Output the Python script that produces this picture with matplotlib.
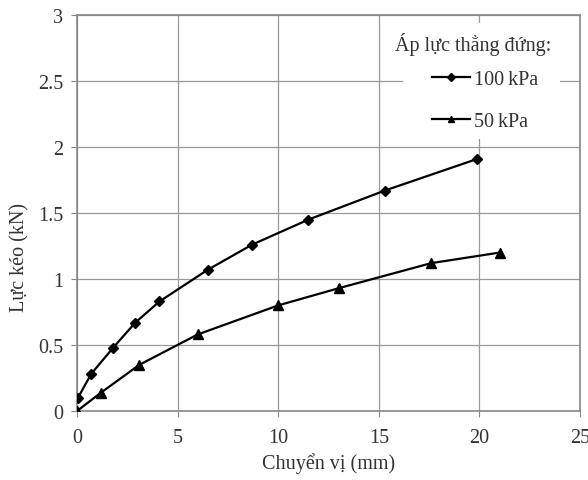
import matplotlib
matplotlib.use("Agg")
import matplotlib.pyplot as plt
from matplotlib.patches import Rectangle

plt.rcParams['font.family'] = ['Liberation Serif', 'DejaVu Serif']

x100 = [0.05, 0.7, 1.8, 2.9, 4.1, 6.5, 8.7, 11.5, 15.3, 19.9]
y100 = [0.10, 0.28, 0.48, 0.67, 0.83, 1.07, 1.26, 1.45, 1.67, 1.91]
x50 = [0.0, 1.2, 3.1, 6.0, 10.0, 13.0, 17.6, 21.0]
y50 = [0.0, 0.14, 0.35, 0.58, 0.80, 0.93, 1.12, 1.20]
labels = ["100\u2009kPa", "50\u2009kPa"]
legend_title = "Áp lực thẳng đứng:"
xticks = [0, 5, 10, 15, 20, 25]
yticks = [0, 0.5, 1, 1.5, 2, 2.5, 3]
yticklabels = ["0", "0.5", "1", "1.5", "2", "2.5", "3"]

W, H = 588, 481
L, R, T, B = 77, 580, 16, 412
fig = plt.figure(figsize=(W/100, H/100), dpi=100)
ax = fig.add_axes([L/W, 1-B/H, (R-L)/W, (B-T)/H])

def ax_x(px):
    return (px - L) / (R - L)

def ax_y(py):
    return (B - py) / (B - T)

ax.plot(x100, y100, color='black', lw=1.6, marker='D', ms=5.5, label=labels[0], zorder=3)
ax.plot(x50, y50, color='black', lw=1.6, marker='^', ms=6.5, label=labels[1], zorder=3)

ax.set_xlim(0, 25)
ax.set_ylim(0, 3)
ax.set_xticks(xticks)
ax.set_yticks(yticks)
ax.set_yticklabels(yticklabels)
ax.grid(True, color='#999999', lw=0.9)
ax.set_axisbelow(True)
for s in ax.spines.values():
    s.set_color('#888888')
    s.set_linewidth(1.2)
fs = 14.5
ax.tick_params(axis='both', colors='#888888', labelcolor='#333333', labelsize=fs, length=4, direction='out')
ax.tick_params(axis='x', pad=8)
ax.tick_params(axis='y', pad=6)

ax.set_xlabel("Chuyển vị (mm)", fontsize=fs, color='#333333')
ax.xaxis.set_label_coords(0.5, ax_y(453))
ax.set_ylabel("Lực kéo (kN)", fontsize=fs, color='#333333')
ax.yaxis.set_label_coords(ax_x(29), ax_y(257))

# white background of legend area
bg = Rectangle((ax_x(403), ax_y(140)), ax_x(560) - ax_x(403), ax_y(24) - ax_y(140),
               transform=ax.transAxes, facecolor='white', edgecolor='none', zorder=2)
ax.add_patch(bg)
ax.text(ax_x(473), ax_y(45), legend_title, transform=ax.transAxes, ha='center', va='center',
        fontsize=fs, color='#333333', zorder=4)

leg = ax.legend(loc='upper left', bbox_to_anchor=(ax_x(432), ax_y(71)),
                frameon=False, fontsize=fs, handlelength=1.9, markerscale=0.75,
                handletextpad=0.2, labelspacing=1.15, borderpad=0, borderaxespad=0)
for t in leg.get_texts():
    t.set_color('#333333')

fig.savefig("out.png", dpi=100)
